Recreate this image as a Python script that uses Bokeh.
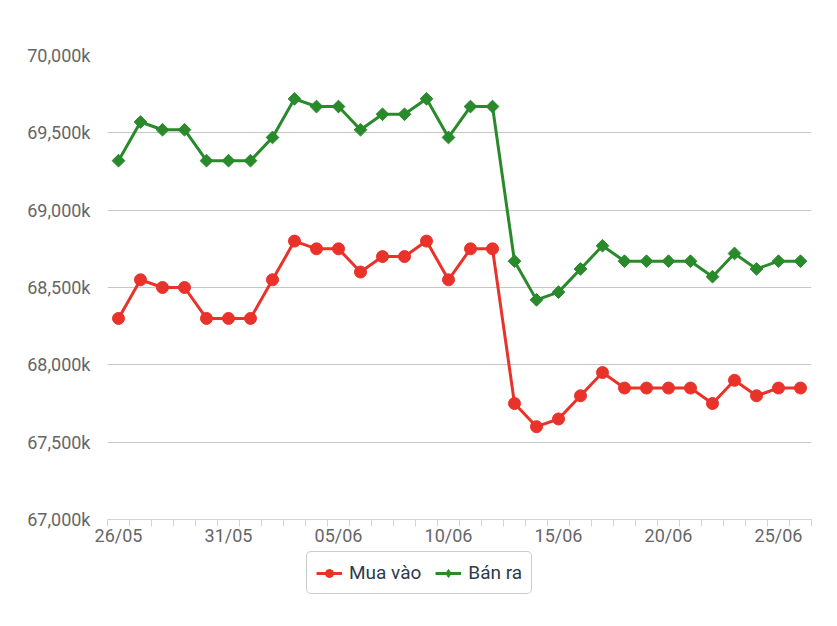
from bokeh.plotting import figure
from bokeh.layouts import column
from bokeh.models import FixedTicker, Range1d, Legend, LegendItem
from bokeh.embed import file_html
from bokeh.resources import INLINE

dates = ["26/05", "27/05", "28/05", "29/05", "30/05", "31/05",
         "01/06", "02/06", "03/06", "04/06", "05/06", "06/06", "07/06", "08/06",
         "09/06", "10/06", "11/06", "12/06", "13/06", "14/06", "15/06", "16/06",
         "17/06", "18/06", "19/06", "20/06", "21/06", "22/06", "23/06", "24/06",
         "25/06", "26/06"]
mua_vao = [68300, 68550, 68500, 68500, 68300, 68300, 68300, 68550, 68800, 68750,
           68750, 68600, 68700, 68700, 68800, 68550, 68750, 68750, 67750, 67600,
           67650, 67800, 67950, 67850, 67850, 67850, 67850, 67750, 67900, 67800,
           67850, 67850]
ban_ra = [69320, 69570, 69520, 69520, 69320, 69320, 69320, 69470, 69720, 69670,
          69670, 69520, 69620, 69620, 69720, 69470, 69670, 69670, 68670, 68420,
          68470, 68620, 68770, 68670, 68670, 68670, 68670, 68570, 68720, 68620,
          68670, 68670]
y_ticks = [67000, 67500, 68000, 68500, 69000, 69500, 70000]
y_labels = ["67,000k", "67,500k", "68,000k", "68,500k", "69,000k", "69,500k", "70,000k"]
x_label_every = 5

RED = "#e8322a"
GREEN = "#288a2a"
FONT = "Roboto"

xs = list(range(len(dates)))

p = figure(width=837, height=550, output_backend="svg", toolbar_location=None,
           x_range=Range1d(-0.5, len(dates) - 0.5), y_range=Range1d(y_ticks[0], y_ticks[-1]),
           min_border_left=107, min_border_right=26, min_border_top=55,
           min_border_bottom=31)
p.outline_line_color = None
p.background_fill_color = "white"
p.border_fill_color = "white"

# grid
p.xgrid.visible = False
p.ygrid.grid_line_color = "#c6c6c6"
p.ygrid.grid_line_width = 1

# y axis
p.yaxis.ticker = FixedTicker(ticks=y_ticks)
p.yaxis.major_label_overrides = {t: l for t, l in zip(y_ticks, y_labels)}
p.yaxis.axis_line_color = None
p.yaxis.major_tick_line_color = None
p.yaxis.minor_tick_line_color = None
p.yaxis.major_label_standoff = 11
p.yaxis.major_label_text_font = FONT
p.yaxis.major_label_text_font_size = "18px"
p.yaxis.major_label_text_color = "#666666"

# x axis
major = xs[::x_label_every]
minor = [i - 0.5 for i in range(len(dates) + 1)]
p.xaxis.ticker = FixedTicker(ticks=major, minor_ticks=minor)
p.xaxis.major_label_overrides = {i: dates[i] for i in major}
p.xaxis.axis_line_color = "#ccd6eb"
p.xaxis.axis_line_width = 1
p.xaxis.major_tick_line_color = None
p.xaxis.major_tick_out = 0
p.xaxis.major_tick_in = 0
p.xaxis.minor_tick_line_color = "#ccd6eb"
p.xaxis.minor_tick_out = 7
p.xaxis.minor_tick_in = 0
p.xaxis.major_label_standoff = -2
p.xaxis.major_label_text_font = FONT
p.xaxis.major_label_text_font_size = "18px"
p.xaxis.major_label_text_color = "#666666"

# series
p.line(xs, mua_vao, line_color=RED, line_width=3)
p.scatter(xs, mua_vao, marker="circle", size=12, fill_color=RED, line_color=RED)
p.line(xs, ban_ra, line_color=GREEN, line_width=3)
p.scatter(xs, ban_ra, marker="square", angle=0.785398, size=9,
          fill_color=GREEN, line_color=GREEN)

# legend strip: same series, drawn outside its (hidden) range so only the legend shows
leg = figure(width=837, height=76, output_backend="svg", toolbar_location=None,
             x_range=Range1d(-0.5, len(dates) - 0.5), y_range=Range1d(0, 1),
             x_axis_type=None, y_axis_type=None,
             min_border_left=0, min_border_right=0, min_border_top=0, min_border_bottom=0)
leg.outline_line_color = None
leg.xgrid.visible = False
leg.ygrid.visible = False
rl = leg.line(xs, mua_vao, line_color=RED, line_width=3)
rp = leg.scatter(xs, mua_vao, marker="circle", size=12, fill_color=RED, line_color=RED)
gl = leg.line(xs, ban_ra, line_color=GREEN, line_width=3)
gp = leg.scatter(xs, ban_ra, marker="diamond", size=14, fill_color=GREEN, line_color=GREEN)

legend = Legend(items=[LegendItem(label="Mua vào", renderers=[rl, rp]),
                       LegendItem(label="Bán ra", renderers=[gl, gp])],
                orientation="horizontal", location=(199, 32))
legend.label_text_font = FONT
legend.label_text_font_size = "19px"
legend.label_text_color = "#2d3b4c"
legend.glyph_width = 26
legend.glyph_height = 20
legend.label_standoff = 7
legend.spacing = 14
legend.padding = 9
legend.border_line_color = "#999999"
legend.border_line_width = 1
legend.margin = 0
if "border_radius" in Legend.properties():
    legend.border_radius = 5
leg.add_layout(legend, "center")

layout = column(p, leg, spacing=0)
open("out.html", "w").write(file_html(layout, INLINE))
